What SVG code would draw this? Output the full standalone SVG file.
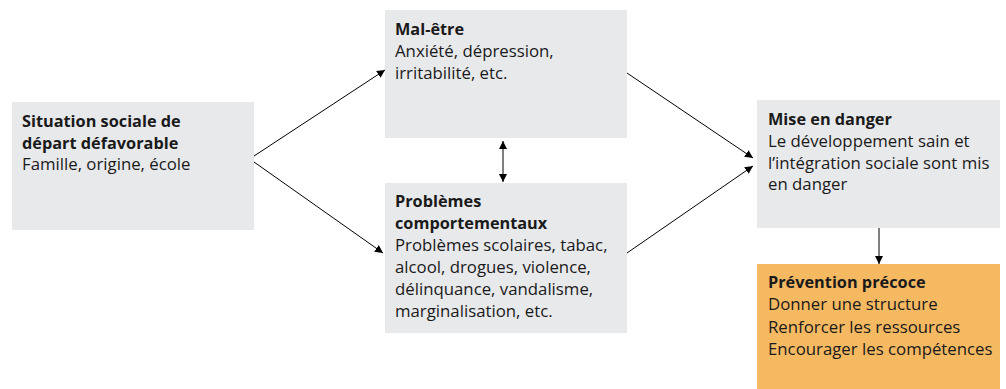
<svg xmlns="http://www.w3.org/2000/svg" width="1006" height="389" viewBox="0 0 1006 389">
<defs>
<marker id="ah" viewBox="0 0 10 10" refX="10" refY="5" markerWidth="8" markerHeight="8" markerUnits="userSpaceOnUse" orient="auto-start-reverse">
<path d="M0,0 L10,5 L0,10 z" fill="#000"/>
</marker>
<style>
.box{fill:#e8e9eb}
.orange{fill:#f5b962}
text{font-family:"Open Sans","Noto Sans",sans-serif;font-size:16.8px;fill:#1a1a1a}
.b{font-weight:bold;font-size:16.3px}
.c{stroke:#000;stroke-width:1;fill:none;marker-end:url(#ah)}
.g{stroke:#555;stroke-width:1.5;fill:none;marker-end:url(#ah)}
</style>
</defs>
<rect width="1006" height="389" fill="#fff"/>
<g id="n1">
<rect class="box" x="12" y="102" width="242" height="128"/>
<text x="22" y="127" class="b">Situation sociale de</text>
<text x="22" y="148.5" class="b">départ défavorable</text>
<text x="22" y="170">Famille, origine, école</text>
</g>
<g id="n2">
<rect class="box" x="385" y="10" width="242" height="128"/>
<text x="395" y="35" class="b">Mal-être</text>
<text x="395" y="57">Anxiété, dépression,</text>
<text x="395" y="78.5">irritabilité, etc.</text>
</g>
<g id="n3">
<rect class="box" x="385" y="183" width="242" height="150"/>
<text x="395" y="207" class="b">Problèmes</text>
<text x="395" y="229" class="b">comportementaux</text>
<text x="395" y="251">Problèmes scolaires, tabac,</text>
<text x="395" y="273">alcool, drogues, violence,</text>
<text x="395" y="295">délinquance, vandalisme,</text>
<text x="395" y="317">marginalisation, etc.</text>
</g>
<g id="n4">
<rect class="box" x="757" y="100" width="243" height="128"/>
<text x="768" y="125" class="b">Mise en danger</text>
<text x="768" y="147">Le développement sain et</text>
<text x="768" y="168.5">l’intégration sociale sont mis</text>
<text x="768" y="190">en danger</text>
</g>
<g id="n5">
<rect class="orange" x="757" y="264" width="243" height="125"/>
<text x="768" y="288" class="b">Prévention précoce</text>
<text x="768" y="310">Donner une structure</text>
<text x="768" y="332.5">Renforcer les ressources</text>
<text x="768" y="355">Encourager les compétences</text>
</g>
<g id="connectors">
<line class="c" x1="254" y1="156" x2="385" y2="70"/>
<line class="c" x1="254" y1="162" x2="383" y2="253"/>
<line class="g" x1="503" y1="141" x2="503" y2="182" marker-start="url(#ah)"/>
<line class="c" x1="627" y1="73" x2="753" y2="158"/>
<line class="c" x1="627" y1="253" x2="753" y2="166"/>
<line class="g" x1="879" y1="228" x2="879" y2="264"/>
</g>
</svg>
